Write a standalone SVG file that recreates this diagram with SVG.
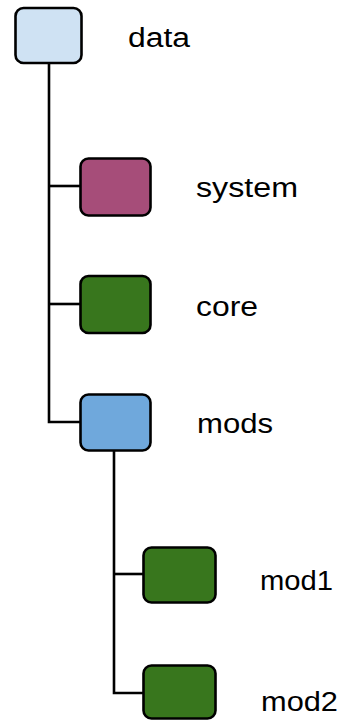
<svg xmlns="http://www.w3.org/2000/svg" width="343" height="720" viewBox="0 0 343 720">
<style>
.box{stroke:#000;stroke-width:2.6}
.lbl{font-family:"Liberation Sans",Arial,sans-serif;font-size:27px;fill:#000}
.edge{stroke:#000;stroke-width:2.6;fill:none}
</style>
<rect width="343" height="720" fill="#fff"/>
<g id="connectors">
<path class="edge" d="M49,63 V422 H80"/>
<path class="edge" d="M49,186 H80"/>
<path class="edge" d="M49,304 H80"/>
<path class="edge" d="M114,451 V693 H143"/>
<path class="edge" d="M114,574 H143"/>
</g>
<g id="data"><rect class="box" x="15.5" y="8" width="66" height="55" rx="8" fill="#cfe2f3"/><text class="lbl" x="128" y="47" textLength="62" lengthAdjust="spacingAndGlyphs">data</text></g>
<g id="system"><rect class="box" x="80.5" y="158.5" width="70" height="57" rx="8" fill="#a64d79"/><text class="lbl" x="196" y="197" textLength="102" lengthAdjust="spacingAndGlyphs">system</text></g>
<g id="core"><rect class="box" x="80.5" y="276" width="70" height="57" rx="8" fill="#38761d"/><text class="lbl" x="196" y="316" textLength="62" lengthAdjust="spacingAndGlyphs">core</text></g>
<g id="mods"><rect class="box" x="80.5" y="394.5" width="70" height="56" rx="8" fill="#6fa8dc"/><text class="lbl" x="197" y="433" textLength="76" lengthAdjust="spacingAndGlyphs">mods</text></g>
<g id="mod1"><rect class="box" x="143.5" y="547.5" width="72" height="55" rx="8" fill="#38761d"/><text class="lbl" x="260" y="590" textLength="73" lengthAdjust="spacingAndGlyphs">mod1</text></g>
<g id="mod2"><rect class="box" x="143.5" y="665.5" width="72" height="53" rx="8" fill="#38761d"/><text class="lbl" x="261" y="711" textLength="77" lengthAdjust="spacingAndGlyphs">mod2</text></g>
</svg>
